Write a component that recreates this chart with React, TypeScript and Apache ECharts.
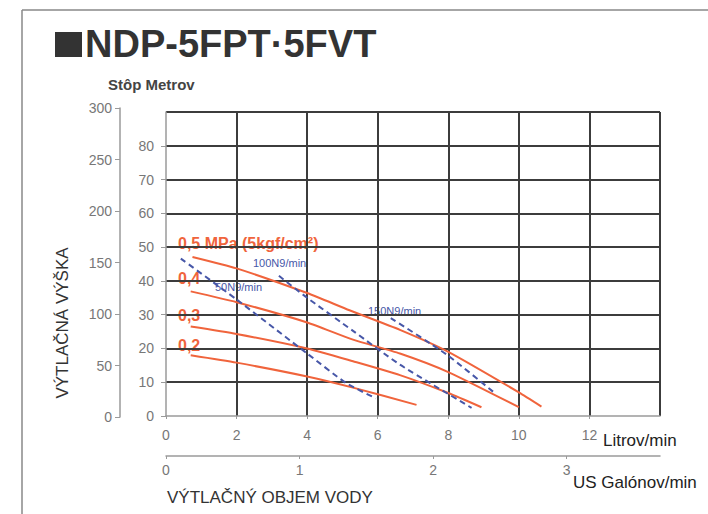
import React, { useEffect, useRef } from "react";
import * as echarts from "echarts";

// Flow in Litrov/min, head in metres
const curve05: number[][] = [[0.75, 47.1], [2, 43.7], [4, 36.4], [5.2, 31.3], [6.63, 25.5], [8, 19], [10, 7], [10.64, 2.8]];
const curve04: number[][] = [[0.7, 36.9], [2, 33.7], [4, 27.7], [5.3, 22.6], [6.63, 18.5], [8, 13], [10, 2.6]];
const curve03: number[][] = [[0.7, 26.5], [2, 24.3], [4, 20.0], [5.3, 16.2], [6.63, 12.1], [8, 6.8], [8.94, 2.6]];
const curve02: number[][] = [[0.7, 18.0], [2, 15.8], [4, 11.7], [5.3, 8.4], [7.1, 3.3]];
const air50: number[][] = [[0.42, 46.6], [2, 34.5], [4, 18.5], [5.1, 9.8], [5.95, 5.2]];
const air100: number[][] = [[3.2, 41.5], [4, 35], [5.3, 25.2], [6.63, 15.2], [8.66, 2.4]];
const air150: number[][] = [[6.37, 29], [7.94, 18.3], [9.27, 7.2]];

const pressureNames = ["0,5 MPa (5kgf/cm²)", "0,4", "0,3", "0,2"];
const airNames = ["50N9/min", "100N9/min", "150N9/min"];

const litrovMax = 14;
const litrovStep = 2;
const metreMax = 90;
const metreStep = 10;
const feetMax = 300;
const feetStep = 50;
const litresPerGallon = 3.785;

const FONT = '"Liberation Sans", Arial, sans-serif';
const ORANGE = "#f0643c";
const BLUE = "#4757a8";
const GRIDC = "#3c3c3c";
const AXISC = "#9a9a9a";
const LABELC = "#777";

export default function App() {
  const ref = useRef<HTMLDivElement>(null);
  useEffect(() => {
    if (!ref.current) return;
    const chart = echarts.init(ref.current, undefined, { renderer: "svg" });
    const orangeSeries = [curve05, curve04, curve03, curve02].map((d, i) => ({
      type: "line",
      name: pressureNames[i],
      data: d,
      xAxisIndex: 0,
      yAxisIndex: 0,
      smooth: 0.2,
      showSymbol: false,
      lineStyle: { color: ORANGE, width: 2 },
      z: 3,
    }));
    const blueSeries = [air50, air100, air150].map((d, i) => ({
      type: "line",
      name: airNames[i],
      data: d,
      xAxisIndex: 0,
      yAxisIndex: 0,
      smooth: 0.2,
      showSymbol: false,
      lineStyle: { color: BLUE, width: 2, type: [6, 4] },
      z: 4,
    }));
    const txt = (x: number, y: number, text: string, size: number, color: string, extra: any = {}, styleExtra: any = {}) => ({
      type: "text",
      x,
      y,
      ...extra,
      style: {
        text,
        fontFamily: FONT,
        fontSize: size,
        fill: color,
        textAlign: "left",
        textVerticalAlign: "middle",
        align: "left",
        verticalAlign: "middle",
        ...styleExtra,
      },
    });
    chart.setOption({
      animation: false,
      backgroundColor: "#fff",
      grid: [
        { left: 166, right: 48, top: 112, bottom: 98 },
        { left: 120, width: 10, top: 108, bottom: 97 },
      ],
      xAxis: [
        {
          type: "value",
          gridIndex: 0,
          min: 0,
          max: litrovMax,
          interval: litrovStep,
          position: "bottom",
          offset: 7,
          axisLine: { show: true, lineStyle: { color: AXISC, width: 1.5 } },
          axisTick: { show: true, length: 3, lineStyle: { color: AXISC } },
          axisLabel: { color: LABELC, fontSize: 14, fontFamily: FONT, margin: 5, showMaxLabel: false },
          splitLine: { show: true, showMinLine: false, lineStyle: { color: GRIDC, width: 2 } },
        },
        {
          type: "value",
          gridIndex: 0,
          min: 0,
          max: litrovMax / litresPerGallon,
          interval: 1,
          position: "bottom",
          offset: 40,
          axisLine: { show: true, lineStyle: { color: AXISC, width: 1.5 } },
          axisTick: { show: true, length: 3, lineStyle: { color: AXISC } },
          axisLabel: { color: LABELC, fontSize: 14, fontFamily: FONT, margin: 7, showMaxLabel: false },
          splitLine: { show: false },
        },
        {
          type: "value",
          gridIndex: 1,
          min: 0,
          max: 1,
          show: false,
        },
      ],
      yAxis: [
        {
          type: "value",
          gridIndex: 0,
          min: 0,
          max: metreMax,
          interval: metreStep,
          position: "left",
          offset: 3,
          axisLine: { show: true, lineStyle: { color: AXISC, width: 1.5 } },
          axisTick: { show: true, length: 5, lineStyle: { color: AXISC } },
          axisLabel: { color: LABELC, fontSize: 14, fontFamily: FONT, margin: 9, showMaxLabel: false },
          splitLine: { show: true, showMinLine: false, lineStyle: { color: GRIDC, width: 2 } },
        },
        {
          type: "value",
          gridIndex: 1,
          min: 0,
          max: feetMax,
          interval: feetStep,
          position: "left",
          axisLine: { show: true, lineStyle: { color: AXISC, width: 1.5 } },
          axisTick: { show: true, length: 5, lineStyle: { color: AXISC } },
          axisLabel: { color: LABELC, fontSize: 14, fontFamily: FONT, margin: 8 },
          splitLine: { show: false },
        },
      ],
      series: [...orangeSeries, ...blueSeries],
      graphic: [
        { type: "line", shape: { x1: 22, y1: 10, x2: 708, y2: 10 }, style: { stroke: "#888", lineWidth: 1.5 } },
        { type: "line", shape: { x1: 22, y1: 10, x2: 22, y2: 514 }, style: { stroke: "#888", lineWidth: 1.5 } },
        { type: "rect", shape: { x: 55, y: 32, width: 27, height: 25 }, style: { fill: "#333" } },
        txt(85, 44, "NDP-5FPT·5FVT", 38, "#333", {}, { fontWeight: "bold" }),
        txt(108, 84, "Stôp Metrov", 15, "#444", {}, { fontWeight: "bold" }),
        txt(62, 323, "VÝTLAČNÁ VÝŠKA", 17, "#333", { rotation: Math.PI / 2 }, { textAlign: "center", align: "center" }),
        txt(603, 440, "Litrov/min", 17, "#222"),
        txt(573, 482, "US Galónov/min", 17, "#222"),
        txt(167, 497, "VÝTLAČNÝ OBJEM VODY", 17, "#333"),
        txt(178, 243, pressureNames[0], 16, ORANGE, {}, { fontWeight: "bold" }),
        txt(178, 278, pressureNames[1], 16, ORANGE, {}, { fontWeight: "bold" }),
        txt(178, 315, pressureNames[2], 16, ORANGE, {}, { fontWeight: "bold" }),
        txt(178, 345, pressureNames[3], 16, ORANGE, {}, { fontWeight: "bold" }),
        txt(215, 287, airNames[0], 11, BLUE),
        txt(253, 263, airNames[1], 11, BLUE),
        txt(368, 311, airNames[2], 11, BLUE),
      ],
    });
    return () => chart.dispose();
  }, []);
  return <div ref={ref} style={{ position: "absolute", left: 0, top: 0, width: 708, height: 514 }} />;
}
